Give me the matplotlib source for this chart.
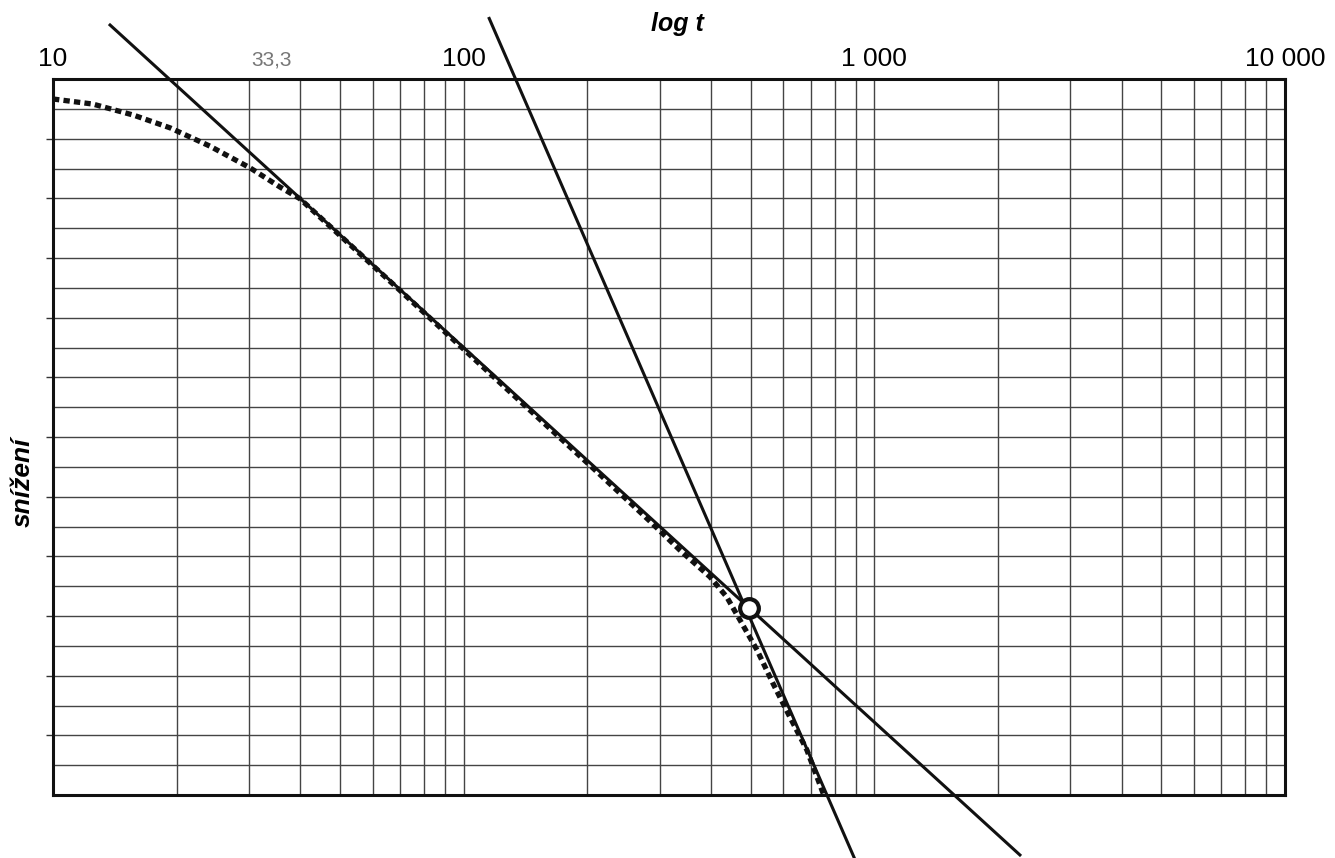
import numpy as np
import matplotlib.pyplot as plt
import matplotlib.transforms as mtransforms
from matplotlib.ticker import FixedLocator, NullFormatter

# krivka sniženi (tečkovaná), čteno z obrázku
t_krivka = [10, 12.5, 15.7, 19.3, 24.1, 30.2, 35.7, 39.9, 70, 122.6, 214.8, 284,
            336, 398, 437.5, 471, 518, 566, 623, 685, 753]
s_krivka = [0.67, 0.84, 1.21, 1.64, 2.25, 2.98, 3.62, 4.01, 7.09, 10.18, 13.26, 14.82,
            15.79, 16.69, 17.37, 18.14, 19.14, 20.25, 21.39, 22.49, 24.0]

# přímky (tečny) - koncové body
t_primka1 = [13.77, 2262]
s_primka1 = [-1.81, 26.01]
t_primka2 = [115.4, 891.8]
s_primka2 = [-2.03, 26.08]

# průsečík
t_bod = [495]
s_bod = [17.74]

x_popisky = [10, 100, 1000, 10000]
x_texty = ["10", "100", "1 000", "10 000"]

plt.rcParams['font.family'] = ['Liberation Sans', 'DejaVu Sans']

fig = plt.figure(figsize=(13.35, 8.58), dpi=100)
ax = fig.add_axes([53/1335, 1-795/858, (1285-53)/1335, (795-79)/858])

ax.set_xscale('log')
ax.set_xlim(10, 10000)
ax.set_ylim(24, 0)

# mřížka
ax.xaxis.set_major_locator(FixedLocator(x_popisky))
minor_x = [m * 10**d for d in range(1, 4) for m in range(2, 10)]
ax.xaxis.set_minor_locator(FixedLocator(minor_x))
ax.xaxis.set_minor_formatter(NullFormatter())
ax.set_xticklabels(x_texty)
ax.xaxis.tick_top()
ax.tick_params(axis='x', which='both', length=0, labelsize=19, pad=5.5)

ax.yaxis.set_major_locator(FixedLocator(range(2, 24, 2)))
ax.yaxis.set_minor_locator(FixedLocator(range(1, 24)))
ax.yaxis.set_major_formatter(NullFormatter())
ax.tick_params(axis='y', which='major', length=5, width=1.0, color='#333', direction='out')
ax.tick_params(axis='y', which='minor', length=0)

ax.grid(True, which='both', color='#444', linewidth=1.0)
for sp in ax.spines.values():
    sp.set_linewidth(2.2)
    sp.set_color('#111')

ax.plot(t_krivka, s_krivka, color='#111', linewidth=3.8,
        linestyle=(0, (1.2, 0.8)), zorder=3)
ax.plot(t_primka1, s_primka1, color='#111', linewidth=2.2, clip_on=False, zorder=4)
ax.plot(t_primka2, s_primka2, color='#111', linewidth=2.2, clip_on=False, zorder=4)
ax.plot(t_bod, s_bod, marker='o', markersize=13.5, markerfacecolor='white',
        markeredgecolor='#111', markeredgewidth=3.0, linestyle='None',
        clip_on=False, zorder=5)

trans = mtransforms.blended_transform_factory(ax.transData, ax.transAxes)
ax.text(34.1, 1 + 13/716, "33,3", ha='center', va='baseline', fontsize=15,
        color='#777', transform=trans)
fig.text(677/1335, 1-24/858, "log t", ha='center', va='center', fontsize=18,
         fontweight='bold', fontstyle='italic')
fig.text(23/1335, 1-482/858, "snížení", ha='center', va='center', fontsize=19,
         fontweight='bold', fontstyle='italic', rotation=90)

fig.savefig("out.png", dpi=100)
